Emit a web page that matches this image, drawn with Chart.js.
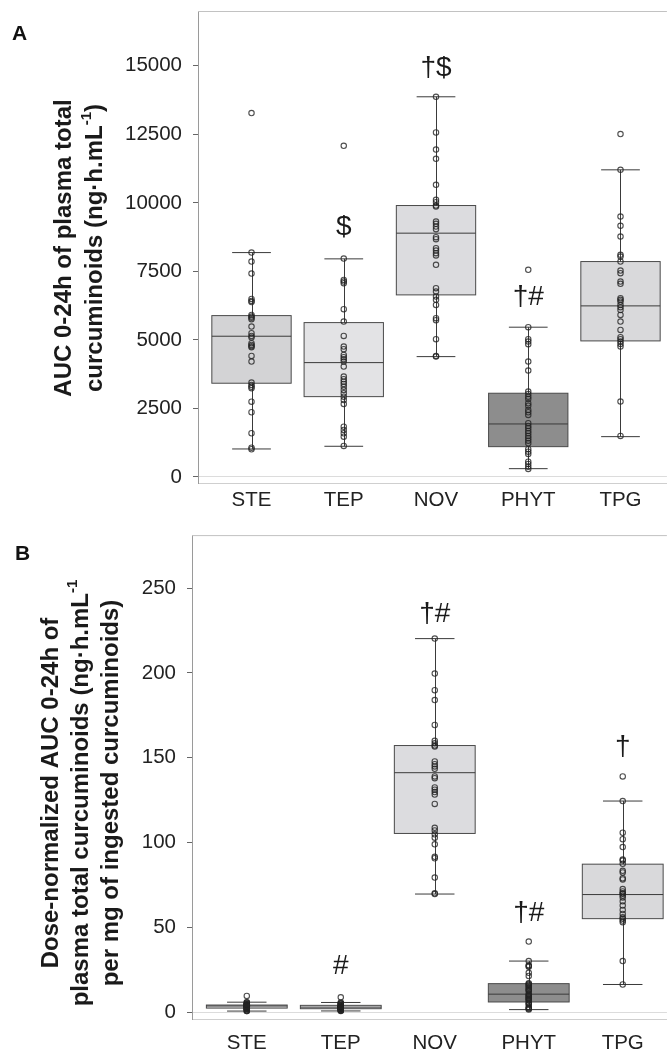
<!DOCTYPE html>
<html>
<head>
<meta charset="utf-8">
<script src="https://cdn.jsdelivr.net/npm/chart.js@4.4.1/dist/chart.umd.min.js"></script>
<style>
  body { margin: 0; background: #fff; }
  #wrap { position: relative; width: 672px; height: 1052px; overflow: hidden; }
  .panel { position: absolute; left: 0; width: 672px; }
  #panelA { top: 0; height: 530px; }
  #panelB { top: 530px; height: 522px; }
  .letter { position: absolute; font: bold 21px "Liberation Sans", Arial, sans-serif; color: #111; }
</style>
</head>
<body>
<div id="wrap">
  <div class="panel" id="panelA"><canvas id="chartA"></canvas></div>
  <div class="panel" id="panelB"><canvas id="chartB"></canvas></div>
  <div class="letter" style="left:12px;top:21px">A</div>
  <div class="letter" style="left:15px;top:541px">B</div>
</div>
<script>
const categories = ["STE", "TEP", "NOV", "PHYT", "TPG"];

// panel A : AUC 0-24h (ng.h/mL), individual subjects
const aTicks = [0, 2500, 5000, 7500, 10000, 12500, 15000];
const aSTE = [13275, 8187, 7858, 7420, 6497, 6424, 6380, 5913, 5851, 5810, 5756, 5486, 5245, 5147, 5090, 4880, 4818, 4770, 4734, 4417, 4209, 3443, 3358, 3290, 3238, 2748, 2361, 1595, 1069, 1011];
const aTEP = [12082, 7968, 7190, 7128, 7070, 6121, 5668, 5147, 4756, 4661, 4453, 4369, 4296, 4209, 4026, 3661, 3566, 3478, 3395, 3296, 3176, 3055, 2931, 2811, 2665, 1836, 1716, 1595, 1471, 1132];
const aNOV = [13870, 12567, 11946, 11607, 10658, 10111, 10027, 9902, 9866, 9318, 9235, 9136, 9041, 8749, 8676, 8348, 8260, 8165, 8083, 7738, 6888, 6764, 6581, 6461, 6278, 5793, 5720, 5026, 4416, 4391];
const aPHYT = [7556, 5464, 5026, 4938, 4843, 4209, 3880, 3114, 3030, 2931, 2847, 2690, 2602, 2446, 2362, 2263, 1960, 1862, 1777, 1679, 1595, 1497, 1413, 1325, 1230, 1011, 923, 840, 558, 475, 376, 292];
const aTPG = [12509, 11206, 9501, 9162, 8771, 8103, 8042, 7858, 7530, 7435, 7128, 7045, 6522, 6461, 6399, 6278, 6194, 6096, 5913, 5669, 5366, 5099, 5026, 4938, 4855, 4756, 2749, 1497];

// box statistics, one value per category
const aLow = [1022, 1120, 4391, 303, 1471];
const aQ1 = [3420, 2931, 6643, 1106, 4964];
const aMed = [5135, 4172, 8895, 1934, 6242];
const aQ3 = [5887, 5632, 9903, 3055, 7859];
const aHigh = [8186, 7957, 13870, 5464, 11205];
const aMarks = ["", "$", "†$", "†#", ""];
const aMarkAt = [null, 9107, 14910, 6552, null];

// panel B : dose-normalized AUC
const bTicks = [0, 50, 100, 150, 200, 250];
const bSTE = [9.69, 5.98, 5.74, 5.42, 4.74, 4.69, 4.66, 4.32, 4.27, 4.24, 4.2, 4.0, 3.83, 3.76, 3.72, 3.56, 3.52, 3.48, 3.46, 3.22, 3.07, 2.51, 2.45, 2.4, 2.36, 2.01, 1.72, 1.16, 0.78, 0.74];
const bTEP = [8.82, 5.82, 5.25, 5.2, 5.16, 4.47, 4.14, 3.76, 3.47, 3.4, 3.25, 3.19, 3.14, 3.07, 2.94, 2.67, 2.6, 2.54, 2.48, 2.41, 2.32, 2.23, 2.14, 2.05, 1.95, 1.34, 1.25, 1.16, 1.07, 0.83];
const bNOV = [220.2, 199.6, 189.8, 184.0, 169.3, 160.0, 158.5, 157.2, 156.6, 147.8, 146.2, 144.9, 143.5, 139.0, 138.0, 132.5, 131.2, 129.8, 128.3, 122.8, 108.7, 107.2, 104.9, 102.9, 99.0, 91.6, 90.8, 79.4, 70.1, 69.7];
const bPHYT = [41.7, 30.2, 27.8, 27.3, 26.8, 23.3, 21.4, 17.2, 16.7, 16.2, 15.7, 14.9, 14.4, 13.5, 13.0, 12.5, 10.8, 10.3, 9.8, 9.3, 8.8, 8.3, 7.8, 7.3, 6.8, 5.6, 5.1, 4.6, 3.1, 2.6, 2.1, 1.6];
const bTPG = [139.0, 124.5, 105.8, 102.0, 97.4, 90.0, 89.4, 87.5, 83.4, 82.4, 79.0, 78.3, 72.6, 71.2, 70.1, 69.8, 68.8, 67.7, 65.4, 62.9, 60.3, 58.0, 56.0, 55.1, 54.1, 53.1, 30.2, 16.4];

const bLow = [0.74, 0.82, 69.7, 1.6, 16.4];
const bQ1 = [2.5, 2.14, 105.4, 6.1, 55.2];
const bMed = [3.75, 3.05, 141.2, 10.7, 69.4];
const bQ3 = [4.3, 4.11, 157.2, 16.9, 87.3];
const bHigh = [5.98, 5.81, 220.2, 30.2, 124.5];
const bMarks = ["", "#", "†#", "†#", "†"];
const bMarkAt = [null, 27.4, 234.3, 58.2, 155.9];

const boxFill = ["#d3d3d5", "#e3e3e5", "#dcdcdf", "#8d8d8d", "#d9d9db"];
const FONT = "'Liberation Sans', Arial, sans-serif";
Chart.defaults.font.family = FONT;

function toPoints(groups) {
    return groups.flatMap((vals, i) => vals.map((v) => ({ x: i, y: v })));
}

// draws a rotated, centred line made of normal and superscript pieces
function rotatedLine(ctx, segs, cx, cy) {
    let total = 0;
    segs.forEach((s) => {
        ctx.font = s.sup ? "bold 15px " + FONT : "bold 24px " + FONT;
        s.w = ctx.measureText(s.t).width;
        total += s.w;
    });
    ctx.save();
    ctx.translate(cx, cy);
    ctx.rotate(-Math.PI / 2);
    let x = -total / 2;
    segs.forEach((s) => {
        ctx.font = s.sup ? "bold 15px " + FONT : "bold 24px " + FONT;
        ctx.fillText(s.t, x, s.sup ? -8 : 0);
        x += s.w;
    });
    ctx.restore();
}

const boxPlugin = {
    id: "boxes",
    beforeDatasetsDraw(chart, args, opts) {
        const { ctx, chartArea, scales: { x, y } } = chart;
        ctx.save();
        // top frame line
        ctx.strokeStyle = "#c2c2c2";
        ctx.lineWidth = 1;
        ctx.beginPath();
        ctx.moveTo(chartArea.left, chartArea.top + 0.5);
        ctx.lineTo(chartArea.right, chartArea.top + 0.5);
        ctx.stroke();

        categories.forEach((c, i) => {
            const l = x.getPixelForValue(i - 0.43);
            const r = x.getPixelForValue(i + 0.43);
            const cl = x.getPixelForValue(i - 0.21);
            const cr = x.getPixelForValue(i + 0.21);
            const mid = Math.round(x.getPixelForValue(i)) + 0.5;
            const q1 = y.getPixelForValue(opts.q1[i]);
            const q3 = y.getPixelForValue(opts.q3[i]);
            const md = y.getPixelForValue(opts.med[i]);
            const lo = y.getPixelForValue(opts.low[i]);
            const hi = y.getPixelForValue(opts.high[i]);

            ctx.fillStyle = boxFill[i];
            ctx.fillRect(l, q3, r - l, q1 - q3);
            ctx.strokeStyle = "#4a4a4a";
            ctx.strokeRect(l, q3, r - l, q1 - q3);

            ctx.strokeStyle = "#3a3a3a";
            ctx.beginPath();
            ctx.moveTo(l, md); ctx.lineTo(r, md);
            ctx.moveTo(mid, q3); ctx.lineTo(mid, hi);
            ctx.moveTo(mid, q1); ctx.lineTo(mid, lo);
            ctx.moveTo(cl, hi); ctx.lineTo(cr, hi);
            ctx.moveTo(cl, lo); ctx.lineTo(cr, lo);
            ctx.stroke();
        });
        ctx.restore();
    },
    afterDatasetsDraw(chart, args, opts) {
        const { ctx, scales: { x, y } } = chart;
        ctx.save();
        ctx.fillStyle = "#1a1a1a";
        ctx.textAlign = "center";
        ctx.textBaseline = "middle";
        ctx.font = "28px " + FONT;
        opts.marks.forEach((m, i) => {
            if (!m) return;
            ctx.fillText(m, x.getPixelForValue(i), y.getPixelForValue(opts.markAt[i]));
        });
        // y axis title
        ctx.textAlign = "left";
        opts.title.forEach((line, k) => {
            rotatedLine(ctx, line, opts.titleX + k * opts.titleGap, opts.titleY);
        });
        ctx.restore();
    },
};

function makeChart(id, groups, stats, axes) {
    return new Chart(document.getElementById(id), {
        type: "scatter",
        data: {
            datasets: [
                {
                    data: toPoints(groups),
                    pointRadius: 2.7,
                    borderWidth: 1.1,
                    borderColor: "rgba(35, 35, 35, 0.8)",
                    backgroundColor: "rgba(0, 0, 0, 0)",
                },
            ],
        },
        options: {
            responsive: true,
            maintainAspectRatio: false,
            animation: false,
            events: [],
            layout: { padding: { top: axes.top, left: 0, right: 0, bottom: 0 } },
            plugins: {
                legend: { display: false },
                tooltip: { enabled: false },
                boxes: stats,
            },
            scales: {
                x: {
                    type: "linear",
                    min: axes.xMin,
                    max: axes.xMax,
                    afterBuildTicks(scale) {
                        scale.ticks = categories.map((c, i) => ({ value: i }));
                    },
                    afterFit(scale) {
                        scale.height = axes.xHeight;
                        scale.paddingLeft = 0;
                        scale.paddingRight = 0;
                    },
                    ticks: {
                        autoSkip: false,
                        maxRotation: 0,
                        padding: axes.xPad,
                        color: "#222",
                        font: { size: 20.5 },
                        callback: (v) => categories[v] || "",
                    },
                    grid: { drawOnChartArea: false, drawTicks: false },
                    border: { color: "#cfcfcf" },
                },
                y: {
                    min: axes.yMin,
                    max: axes.yMax,
                    afterBuildTicks(scale) {
                        scale.ticks = axes.ticks.map((v) => ({ value: v }));
                    },
                    afterFit(scale) {
                        scale.width = axes.yWidth;
                        scale.paddingTop = 0;
                        scale.paddingBottom = 0;
                    },
                    ticks: {
                        padding: 11,
                        color: "#222",
                        font: { size: 20.5 },
                        callback: (v) => String(v),
                    },
                    grid: {
                        color: (c) => (c.tick && c.tick.value === 0 ? "#dcdcdc" : "rgba(0,0,0,0)"),
                        tickColor: "#666",
                        tickLength: 5,
                    },
                    border: { color: "#9a9a9a" },
                },
            },
        },
        plugins: [boxPlugin],
    });
}

makeChart(
    "chartA",
    [aSTE, aTEP, aNOV, aPHYT, aTPG],
    {
        low: aLow, q1: aQ1, med: aMed, q3: aQ3, high: aHigh,
        marks: aMarks, markAt: aMarkAt,
        title: [
            [{ t: "AUC 0-24h of plasma total" }],
            [{ t: "curcuminoids (ng·h.mL" }, { t: "-1", sup: true }, { t: ")" }],
        ],
        titleX: 64.5, titleY: 248, titleGap: 30.5,
    },
    { top: 11, xMin: -0.58, xMax: 4.503, xHeight: 47, xPad: 5, yMin: -220, yMax: 17000, yWidth: 198, ticks: aTicks }
);

makeChart(
    "chartB",
    [bSTE, bTEP, bNOV, bPHYT, bTPG],
    {
        low: bLow, q1: bQ1, med: bMed, q3: bQ3, high: bHigh,
        marks: bMarks, markAt: bMarkAt,
        title: [
            [{ t: "Dose-normalized AUC 0-24h of" }],
            [{ t: "plasma total curcuminoids (ng·h.mL" }, { t: "-1", sup: true }],
            [{ t: "per mg of ingested curcuminoids)" }],
        ],
        titleX: 51.5, titleY: 263, titleGap: 29.8,
    },
    { top: 2, xMin: -0.583, xMax: 4.47, xHeight: 33, xPad: 12, yMin: -3.93, yMax: 281.2, yWidth: 192, ticks: bTicks }
);
</script>
</body>
</html>
